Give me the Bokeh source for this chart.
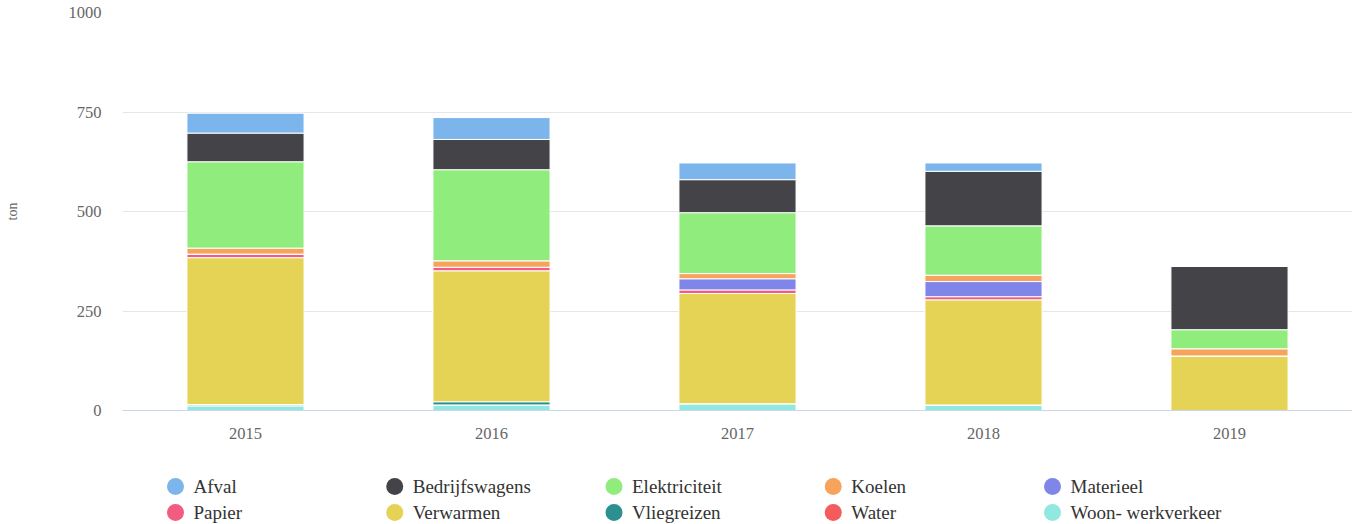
from bokeh.plotting import figure
from bokeh.models import ColumnDataSource, Range1d, FixedTicker
from bokeh.layouts import column
from bokeh.embed import file_html
from bokeh.resources import INLINE
from bokeh.core.properties import value

years = ["2015", "2016", "2017", "2018", "2019"]

# series in legend order (Highcharts stacks first series on top)
names = ["Afval", "Bedrijfswagens", "Elektriciteit", "Koelen", "Materieel",
         "Papier", "Verwarmen", "Vliegreizen", "Water", "Woon- werkverkeer"]
colors = ["#7cb5ec", "#434348", "#90ed7d", "#f7a35c", "#8085e9",
          "#f15c80", "#e4d354", "#2b908f", "#f45b5b", "#91e8e1"]

afval = [50, 55, 42, 21, 0]
bedrijfswagens = [72, 76, 83, 137, 159]
elektriciteit = [217, 229, 153, 124, 48]
koelen = [15, 16, 13, 16, 18]
materieel = [0, 0, 28, 38, 0]
papier = [9, 9, 9, 8, 0]
verwarmen = [369, 329, 277, 264, 137]
vliegreizen = [3, 8, 0, 0, 0]
water = [0, 0, 0, 0, 0]
woon_werkverkeer = [12, 14, 17, 14, 0]

y_ticks = [0, 250, 500, 750, 1000]

series = [afval, bedrijfswagens, elektriciteit, koelen, materieel,
          papier, verwarmen, vliegreizen, water, woon_werkverkeer]
keys = ["s%d" % i for i in range(len(names))]
data = {"year": years}
for k, s in zip(keys, series):
    data[k] = s
source = ColumnDataSource(data)

W = 1352
FL = 122          # frame left
FR = 1352         # frame right
MH = 446          # main figure height
LH = 78           # legend panel height

p = figure(x_range=years, y_range=Range1d(0, 1000), width=W, height=MH,
           output_backend="svg", toolbar_location=None,
           min_border_left=FL, min_border_right=W - FR, min_border_top=12,
           min_border_bottom=MH - 410)
stack_keys = keys[::-1]
stack_colors = colors[::-1]
p.vbar_stack(stack_keys, x="year", width=0.476, color=stack_colors,
             line_color="white", line_width=1, source=source)

p.outline_line_color = None
p.background_fill_color = "white"
p.border_fill_color = "white"
p.xgrid.grid_line_color = None
p.ygrid.grid_line_color = "#e6e6e6"
p.ygrid.ticker = FixedTicker(ticks=y_ticks)

p.yaxis.ticker = FixedTicker(ticks=y_ticks)
p.yaxis.axis_line_color = None
p.yaxis.major_tick_line_color = None
p.yaxis.minor_tick_line_color = None
p.yaxis.major_tick_out = 0
p.yaxis.major_tick_in = 0
p.yaxis.minor_tick_out = 0
p.yaxis.major_label_standoff = 21
p.yaxis.axis_label = "ton"
p.yaxis.axis_label_standoff = 46
p.yaxis.axis_label_text_font = "Liberation Serif"
p.yaxis.axis_label_text_font_size = "14px"
p.yaxis.axis_label_text_font_style = "normal"
p.yaxis.axis_label_text_color = "#666666"

p.xaxis.axis_line_color = "#ccd6eb"
p.xaxis.major_tick_line_color = None
p.xaxis.minor_tick_line_color = None
p.xaxis.major_label_standoff = 11

for ax in (p.xaxis[0], p.yaxis[0]):
    ax.major_label_text_font = "Liberation Serif"
    ax.major_label_text_font_size = "16.5px"
    ax.major_label_text_color = "#666666"

# legend panel: its frame is aligned with the chart frame; data units = page px
lg = figure(width=W, height=LH, x_range=Range1d(FL, FR), y_range=Range1d(LH, 0),
            output_backend="svg", toolbar_location=None,
            min_border_left=FL, min_border_right=W - FR,
            min_border_top=0, min_border_bottom=0)
lg.axis.visible = False
lg.grid.grid_line_color = None
lg.outline_line_color = None
ncol = 5
col_w = 219.25
cx = [175 + col_w * (i % ncol) for i in range(len(names))]
tx = [193 + col_w * (i % ncol) for i in range(len(names))]
ry = [40 + 26 * (i // ncol) for i in range(len(names))]
lsrc = ColumnDataSource(dict(cx=cx, tx=tx, y=ry, name=names, color=colors))
lg.scatter(x="cx", y="y", size=17, marker="circle", fill_color="color",
           line_color=None, source=lsrc)
lg.text(x="tx", y="y", text="name", text_baseline="middle", text_align="left",
        text_font=value("Liberation Serif"), text_font_size="19px",
        text_color="#333333", source=lsrc)

layout = column(p, lg, spacing=0)
open("out.html", "w").write(file_html(layout, INLINE))
